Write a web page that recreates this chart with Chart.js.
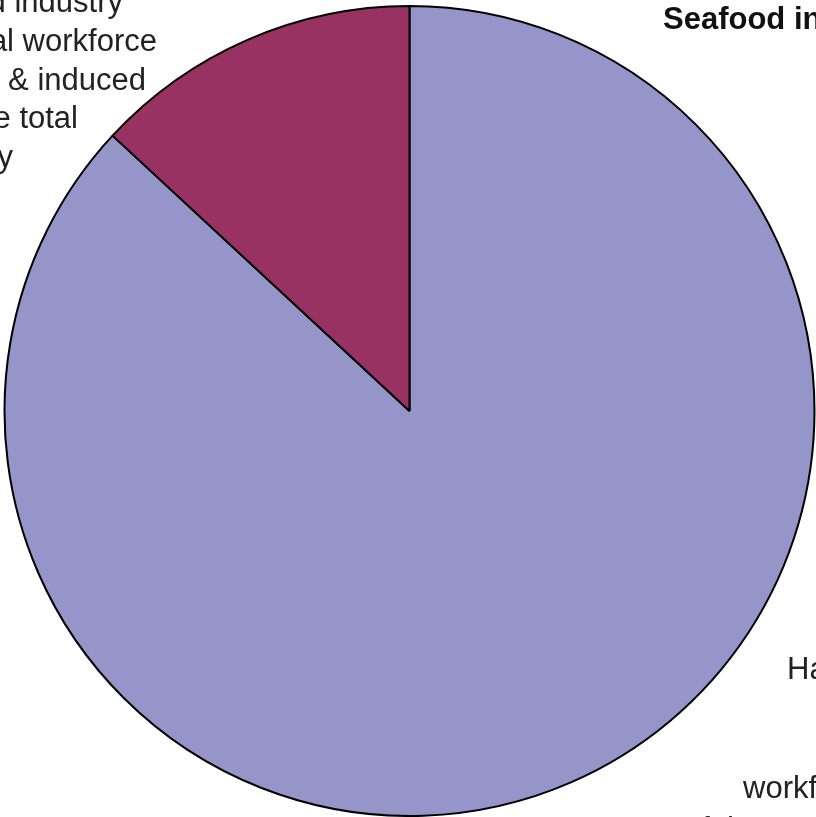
<!DOCTYPE html>
<html>
<head>
<meta charset="utf-8">
<script src="https://cdn.jsdelivr.net/npm/chart.js@4/dist/chart.umd.min.js"></script>
<style>
  html, body { margin: 0; padding: 0; background: #fff; }
  #wrap { position: relative; width: 816px; height: 817px; overflow: hidden; }
  #chart { position: absolute; left: 0; top: 0; }
  .lbl {
    position: absolute; white-space: nowrap; color: #222;
    font-family: "Liberation Sans", Arial, Helvetica, sans-serif;
    font-size: 31px; line-height: 31px;
  }
  .right { text-align: right; }
  .bold { font-weight: bold; color: #111; }
</style>
</head>
<body>
<div id="wrap">
  <canvas id="chart" width="816" height="817"></canvas>
</div>
<script>
// slices go clockwise from 12 o'clock
let sliceLabels = ['Rest of the workforce', 'Seafood industry'];
let sliceValues = [86.9, 13.1];
let sliceColours = ['#9595c9', '#983262'];

// annotation text (cut off by the picture edge)
let leftLines = ['Seafood industry', '13% of the total workforce', '(direct, indirect & induced', 'as % of the total', 'economy'];
let leftRightEdges = [123, 157, 146, 78, 13];
let rightLines = ['Harvesting', 'workforce', 'of the total'];
let rightStarts = [787, 743, 684];
let rightBaselines = [680, 799, 840];

/**
 * Puts one text line into the wrapper, measured from its baseline.
 */
function addLine(text, x, baseline, alignRight, bold) {
  let el = document.createElement('div');
  el.className = 'lbl' + (bold ? ' bold' : '');
  el.textContent = text;
  // 31px line box: baseline sits roughly 0.86 em below top
  el.style.top = (baseline - 27) + 'px';
  if (alignRight) {
    el.style.right = (816 - x) + 'px';
    el.classList.add('right');
  } else {
    el.style.left = x + 'px';
  }
  document.getElementById('wrap').appendChild(el);
}

leftLines.forEach((line, i) => addLine(line, leftRightEdges[i], 13 + i * 38.8, true, false));
addLine('Seafood industry', 663, 30, false, true);
rightLines.forEach((line, i) => addLine(line, rightStarts[i], rightBaselines[i], false, false));

let ctx = document.getElementById('chart').getContext('2d');
new Chart(ctx, {
  type: 'pie',
  data: {
    labels: sliceLabels,
    datasets: [{ data: sliceValues, backgroundColor: sliceColours, borderColor: '#000', borderWidth: 2 }]
  },
  options: {
    responsive: false, animation: false,
    layout: { padding: { left: 3, right: 0, top: 5, bottom: 0 } },
    plugins: { legend: { display: false }, tooltip: { enabled: false } }
  }
});
</script>
</body>
</html>
